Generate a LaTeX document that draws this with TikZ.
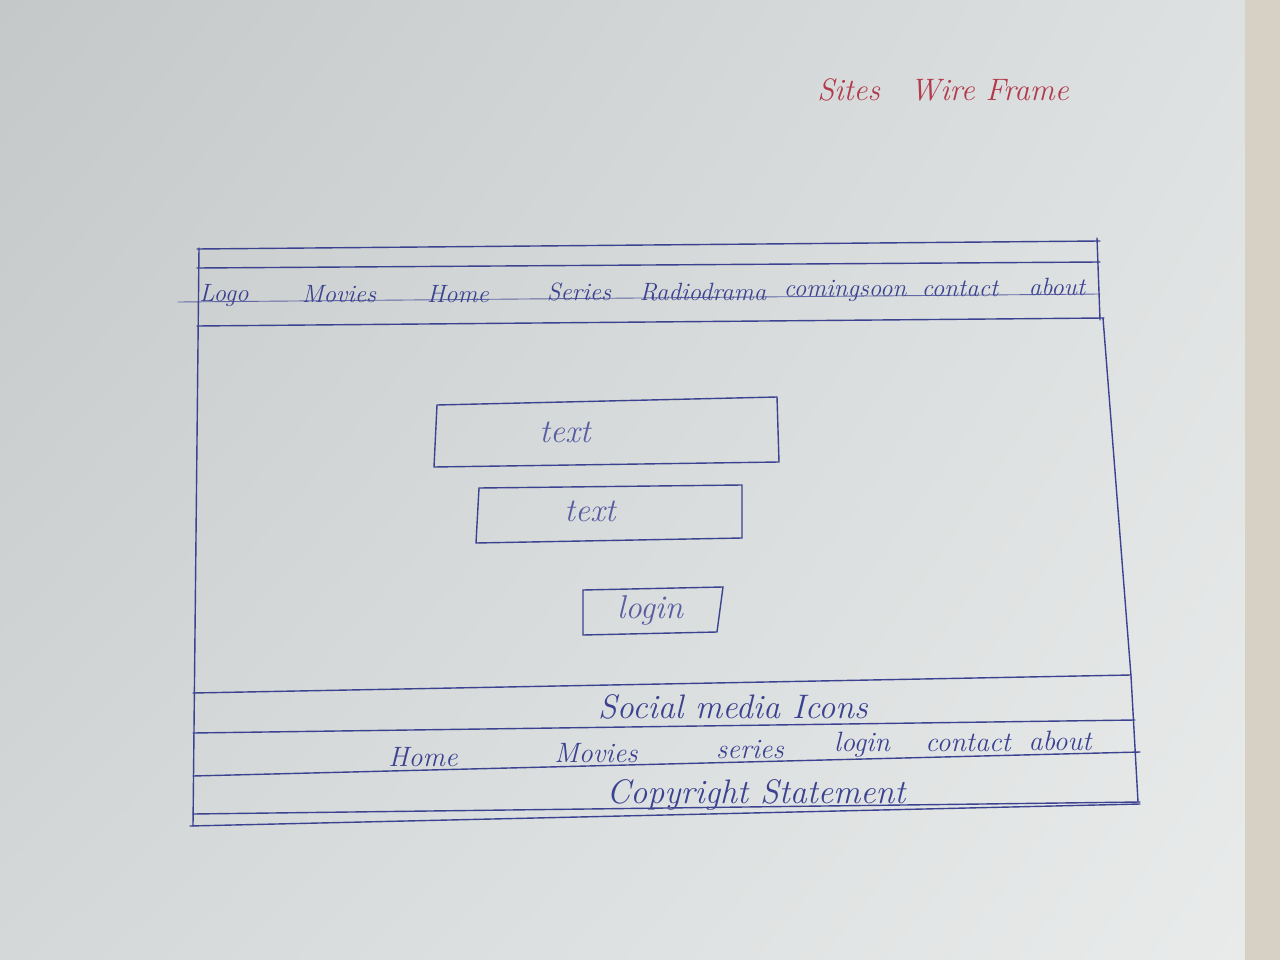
\documentclass[tikz,border=0pt]{standalone}
\usepackage{fontspec}
\usetikzlibrary{shadings}
\begin{document}
\begin{tikzpicture}[x=1pt,y=-1pt,
  ink/.style={draw=inkblue,line width=1.4pt,line cap=round},
  thin ink/.style={draw=inkblue!80,line width=0.9pt,line cap=round},
  navlbl/.style={text=inkblue,font=\fontsize{25}{28}\selectfont\itshape,inner sep=1pt},
  footlbl/.style={text=inkblue,font=\fontsize{28}{32}\selectfont\itshape,inner sep=1pt},
  biglbl/.style={text=inkblue,font=\fontsize{34}{38}\selectfont\itshape,inner sep=1pt},
  boxlbl/.style={text=inkblue!85,font=\fontsize{33}{36}\selectfont\itshape,inner sep=1pt}]
\definecolor{inkblue}{HTML}{3B4290}
\definecolor{redink}{HTML}{B23A4C}
\definecolor{tabletop}{HTML}{D6D1C4}
\definecolor{paperUL}{HTML}{C4C8C8}
\definecolor{paperUR}{HTML}{DEE1E1}
\definecolor{paperLL}{HTML}{D4D8D8}
\definecolor{paperLR}{HTML}{E9EBEB}

% sheet of paper, shaded darker towards the upper left
\useasboundingbox (0,0) rectangle (1280,960);
\shade[upper left=paperUL,upper right=paperUR,lower left=paperLL,lower right=paperLR]
  (0,0) rectangle (1245,960);
\fill[tabletop] (1245,0) rectangle (1280,960);

% title
\node[text=redink,font=\fontsize{31}{34}\selectfont\itshape] (title) at (943,90) {Sites\hspace{30pt}Wire Frame};

% header / navigation bar
\draw[ink] (197,249) -- (1100,241);
\draw[ink] (197,268) -- (1100,262);
\draw[thin ink] (178,302) -- (1100,294);
\draw[ink] (197,326) -- (1104,318);
\draw[ink] (1097,238) -- (1100,320);

\node[navlbl] (nlogo)    at (224,296) {Logo};
\node[navlbl] (nmovies)  at (339,294) {Movies};
\node[navlbl] (nhome)    at (458,294) {Home};
\node[navlbl] (nseries)  at (579,292) {Series};
\node[navlbl] (nradio)   at (703,292) {Radiodrama};
\node[navlbl] (ncoming)  at (845,291) {comingsoon};
\node[navlbl] (ncontact) at (960,289) {contact};
\node[navlbl] (nabout)   at (1057,287) {about};

% page outline
\draw[ink] (199,248) -- (193,826);
\draw[ink] (1103,318) -- (1131,676) -- (1138,802);

% content area: two text fields and a login button
\draw[ink] (437,405) -- (777,397) -- (779,462) -- (434,467) -- cycle;
\node[boxlbl] (field1) at (565,432) {text};
\draw[ink] (479,488) -- (742,485) -- (742,538) -- (476,543) -- cycle;
\node[boxlbl] (field2) at (590,511) {text};
\draw[ink] (583,590) -- (723,587) -- (717,632) -- (583,635) -- cycle;
\node[boxlbl] (loginbtn) at (650,610) {login};

% footer rows
\draw[ink] (193,693) -- (1131,675);
\draw[ink] (193,733) -- (1135,720);
\draw[ink] (193,776) -- (1140,752);
\draw[ink] (193,814) -- (1140,802);
\draw[ink] (190,826) -- (1140,804);

\node[biglbl] (social) at (733,707) {Social media Icons};
\node[footlbl] (fhome)    at (423,757) {Home};
\node[footlbl] (fmovies)  at (596,753) {Movies};
\node[footlbl] (fseries)  at (750,750) {series};
\node[footlbl] (flogin)   at (862,745) {login};
\node[footlbl] (fcontact) at (968,743) {contact};
\node[footlbl] (fabout)   at (1060,741) {about};
\node[biglbl] (copy) at (756,795) {Copyright Statement};
\end{tikzpicture}
\end{document}
